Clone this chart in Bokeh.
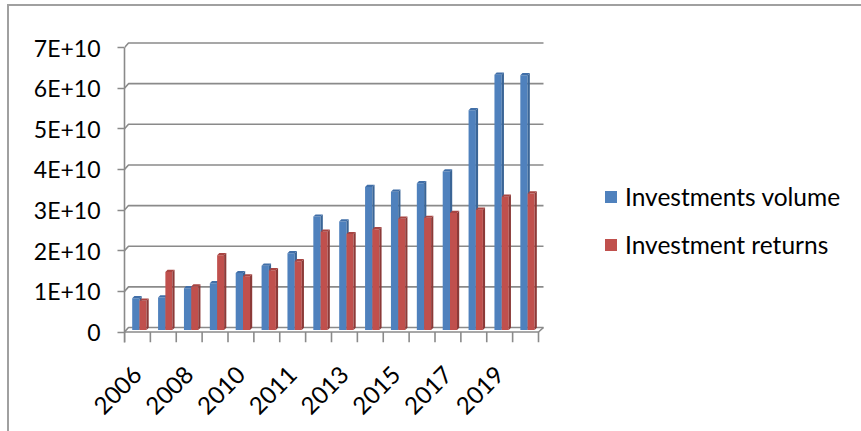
from math import pi

from bokeh.embed import file_html
from bokeh.models import (CustomJSTickFormatter, FixedTicker, InlineStyleSheet,
                          Legend, LegendItem, Range1d)
from bokeh.plotting import figure
from bokeh.resources import INLINE

# ---- data -------------------------------------------------------------
periods = ["2006", "2007", "2008", "2009", "2010", "2010", "2011", "2012",
           "2013", "2014", "2015", "2016", "2017", "2018", "2019", "2020"]
investments_volume = [7.8e9, 8.0e9, 1.03e10, 1.15e10, 1.40e10, 1.58e10,
                      1.89e10, 2.79e10, 2.67e10, 3.52e10, 3.40e10, 3.61e10,
                      3.90e10, 5.41e10, 6.28e10, 6.27e10]
investment_returns = [7.2e9, 1.43e10, 1.07e10, 1.84e10, 1.32e10, 1.47e10,
                      1.69e10, 2.42e10, 2.36e10, 2.48e10, 2.74e10, 2.76e10,
                      2.88e10, 2.96e10, 3.28e10, 3.36e10]
y_ticks = [0, 1e10, 2e10, 3e10, 4e10, 5e10, 6e10, 7e10]
label_every = 2

# ---- layout geometry (pixels) -----------------------------------------
W, H = 861, 431
FRAME_L, FRAME_R, FRAME_T, FRAME_B = 124, 861, 38, 342
CAT_PX = 25.875            # width of one category slot
Y_PX = 40.64 / 1e10        # pixels per unit of value
ZERO_PX = 331.5            # screen row of the value 0 on the front edge

n = len(periods)
x_start = 0.5
x_end = x_start + (FRAME_R - FRAME_L) / CAT_PX
y_start = -(FRAME_B - ZERO_PX) / Y_PX
y_end = (ZERO_PX - FRAME_T) / Y_PX


def dx(px):
    return px / CAT_PX


def dy(px):
    return px / Y_PX


FONT = "Lato"
GRID = "#8a8a8a"

# thin grey frame around the whole chart area
chart_border = InlineStyleSheet(css="""
:host::after {
  content: "";
  position: absolute;
  left: 7px; top: 4px; right: 0; bottom: 0;
  border-top: 2px solid #a0a0a0;
  border-left: 2px solid #a0a0a0;
  pointer-events: none;
}
""")

p = figure(width=W, height=H, output_backend="svg", toolbar_location=None,
           x_range=Range1d(x_start, x_end), y_range=Range1d(y_start, y_end),
           min_border_left=FRAME_L, min_border_right=0,
           min_border_top=FRAME_T, min_border_bottom=H - FRAME_B,
           stylesheets=[chart_border])
p.outline_line_color = None
p.grid.visible = False
p.background_fill_color = "white"
p.border_fill_color = "white"

# back wall gridlines, drawn with a small depth offset
wall_dx, wall_dy = 4, 4.5
gx, gy = [], []
for v in y_ticks:
    gx.append([x_start, x_start + dx(wall_dx), n + 0.5 + dx(wall_dx + 1)])
    gy.append([v, v + dy(wall_dy), v + dy(wall_dy)])
p.multi_line(gx, gy, line_color=GRID, line_width=1.6)

# front floor edge and its right-hand depth edge
p.line([x_start, n + 0.5, n + 0.5 + dx(wall_dx + 1)],
       [0, 0, dy(wall_dy)], line_color=GRID, line_width=1.6)

# category boundary ticks on the floor
bx = [i + 0.5 for i in range(n + 1)]
p.segment(bx, [0] * len(bx), bx, [y_start] * len(bx),
          line_color=GRID, line_width=1.6)

# ---- 3-D style columns ------------------------------------------------
base = dy(2)
depth_x, depth_y = dx(2.2), dy(2.2)
series = [
    (investments_volume, 7.7, 15.0, "#4f81bd", "#3a6596", "#416fa8"),
    (investment_returns, 15.0, 22.0, "#c0504d", "#8c3a38", "#a84542"),
]
front_renderers = []
for vals, a_px, b_px, face, side, cap in series:
    lefts = [i + 1 - 0.5 + dx(a_px) for i in range(n)]
    rights = [i + 1 - 0.5 + dx(b_px) for i in range(n)]
    tops = [v + base for v in vals]
    r = p.quad(left=lefts, right=rights, bottom=base, top=tops,
               fill_color=face, line_color=None)
    front_renderers.append(r)
    side_xs = [[R, R + depth_x, R + depth_x, R] for R in rights]
    side_ys = [[base, base + depth_y, t + depth_y, t] for t in tops]
    p.patches(side_xs, side_ys, fill_color=side, line_color=None)
    cap_xs = [[L, L + depth_x, R + depth_x, R] for L, R in zip(lefts, rights)]
    cap_ys = [[t, t + depth_y, t + depth_y, t] for t in tops]
    p.patches(cap_xs, cap_ys, fill_color=cap, line_color=None)

# ---- axes -------------------------------------------------------------
ya = p.yaxis[0]
ya.ticker = FixedTicker(ticks=y_ticks)
ya.bounds = (y_start, y_ticks[-1])
ya.formatter = CustomJSTickFormatter(
    code="return tick == 0 ? '0' : Math.round(tick / 1e10) + 'E+10';")
ya.axis_line_color = GRID
ya.axis_line_width = 1.6
ya.major_tick_line_color = GRID
ya.major_tick_line_width = 1.6
ya.major_tick_out = 7
ya.major_tick_in = 0
ya.minor_tick_line_color = None
ya.major_label_standoff = 17
ya.major_label_text_font = FONT
ya.major_label_text_font_size = "23px"
ya.major_label_text_color = "black"

xa = p.xaxis[0]
xa.ticker = FixedTicker(ticks=list(range(1, n + 1, label_every)))
xa.formatter = CustomJSTickFormatter(
    args=dict(labels=periods),
    code="return labels[Math.round(tick) - 1] || '';")
xa.axis_line_color = None
xa.major_tick_line_color = None
xa.minor_tick_line_color = None
xa.major_label_orientation = pi / 4
xa.major_label_standoff = 22
xa.major_label_text_font = FONT
xa.major_label_text_font_size = "24px"
xa.major_label_text_color = "black"

# ---- legend -----------------------------------------------------------
legend = Legend(items=[
    LegendItem(label="Investments volume", renderers=[front_renderers[0]]),
    LegendItem(label="Investment returns", renderers=[front_renderers[1]]),
], location=(479, 83))
legend.label_text_font = FONT
legend.label_text_font_size = "24.5px"
legend.label_text_color = "black"
legend.glyph_width = 15
legend.glyph_height = 15
legend.label_standoff = 7
legend.spacing = 19
legend.padding = 0
legend.margin = 0
legend.border_line_color = None
legend.background_fill_alpha = 0
p.add_layout(legend)

open("out.html", "w").write(file_html(p, INLINE))
